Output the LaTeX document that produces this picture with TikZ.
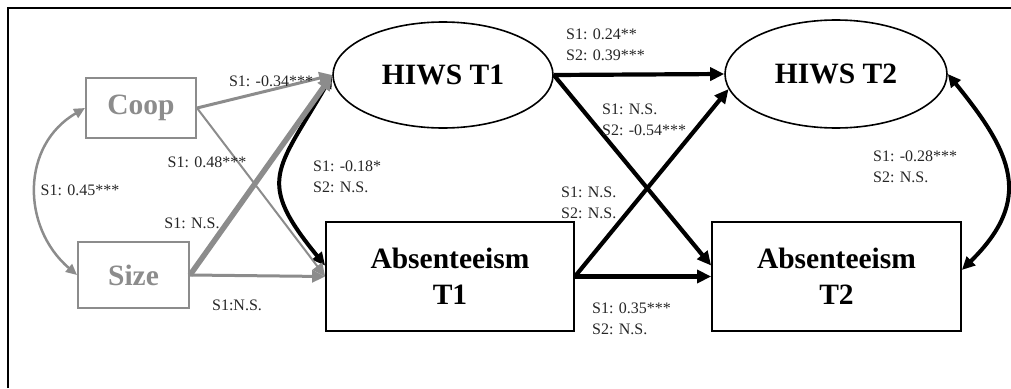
\documentclass[tikz,border=0pt]{standalone}
\usepackage{fontspec}
\setmainfont{Liberation Serif}
\usetikzlibrary{arrows.meta,shapes.geometric}
\definecolor{gry}{RGB}{140,140,140}
\begin{document}
\begin{tikzpicture}[x=1pt,y=-1pt,
  lbl/.style={font=\fontsize{16}{20.5}\selectfont, align=left, inner sep=0pt, text=black!85},
  ttl/.style={font=\fontsize{29.5}{36}\selectfont\bfseries, align=center},
  blkbox/.style={draw=black, line width=1.8pt, rectangle, ttl, inner sep=0pt},
  grybox/.style={draw=gry, line width=2pt, rectangle, ttl, text=gry, inner sep=0pt},
  ell/.style={draw=black, line width=1.6pt, ellipse, ttl, inner sep=0pt},
  blk/.style={line width=4.2pt, -{Triangle[length=14pt,width=13pt]}},
  blkcurve/.style={line width=4pt, {Triangle[length=13pt,width=12pt]}-{Triangle[length=13pt,width=12pt]}},
  gryarr/.style={draw=gry, -{Triangle[length=13pt,width=12pt]}},
  grycurve/.style={draw=gry, line width=2.5pt, {Triangle[length=11pt,width=10pt]}-{Triangle[length=11pt,width=10pt]}}
]
\useasboundingbox (0,0) rectangle (1011,388);
% frame
\draw[line width=2.7pt, line join=miter] (8,388) -- (8,8) -- (1011,8);

% nodes
\node[grybox, minimum width=110pt, minimum height=60pt] (Coop) at (141,108) {Coop};
\node[grybox, minimum width=111pt, minimum height=66pt] (Size) at (133.5,275) {Size};
\node[ell, minimum width=220pt, minimum height=106pt] (H1) at (443,75) {HIWS T1};
\node[blkbox, minimum width=248pt, minimum height=109pt] (A1) at (450,276.5) {Absenteeism\\T1};
\node[ell, minimum width=222pt, minimum height=108pt] (H2) at (836,74) {HIWS T2};
\node[blkbox, minimum width=249pt, minimum height=109pt] (A2) at (836.5,276.5) {Absenteeism\\T2};

% curved correlations
\draw[grycurve] (Coop.west) .. controls (21,145) and (21,227) .. (Size.west);
\draw[blkcurve] (H1.west) .. controls (277,171) and (255,180) .. (A1.175);
\draw[blkcurve] (H2.east) .. controls (1012,153) and (1034,199) .. (A2.3);

% gray paths
\draw[gryarr, line width=2pt] (Coop.east) -- (A1.west);
\draw[gryarr, line width=3pt] (Coop.east) -- (H1.west);
\draw[gryarr, line width=3pt] (Size.east) -- (A1.west);
\draw[gryarr, line width=5.5pt, -{Triangle[length=15pt,width=14pt]}] (Size.east) -- (H1.west);

% black paths
\draw[blk] (H1.east) -- (H2.west);
\draw[blk] (H1.east) -- (A2.175);
\draw[blk] (A1.east) -- (H2.188);
\draw[blk] (A1.east) -- (A2.west);

% labels
\node[lbl] (l1) at (271,81) {S1: -0.34***};
\node[lbl] (l2) at (207,162) {S1: 0.48***};
\node[lbl] (l3) at (80,190) {S1: 0.45***};
\node[lbl] (l4) at (192,223) {S1: N.S.};
\node[lbl] (l5) at (237,305) {S1:N.S.};
\node[lbl, anchor=west] (l6) at (313,177) {S1: -0.18*\\S2: N.S.};
\node[lbl, anchor=west] (l7) at (566,45) {S1: 0.24**\\S2: 0.39***};
\node[lbl, anchor=west] (l8) at (602,120) {S1: N.S.\\S2: -0.54***};
\node[lbl, anchor=west] (l9) at (561,203) {S1: N.S.\\S2: N.S.};
\node[lbl, anchor=west] (l10) at (592,319) {S1: 0.35***\\S2: N.S.};
\node[lbl, anchor=west] (l11) at (873,167) {S1: -0.28***\\S2: N.S.};
\end{tikzpicture}
\end{document}
